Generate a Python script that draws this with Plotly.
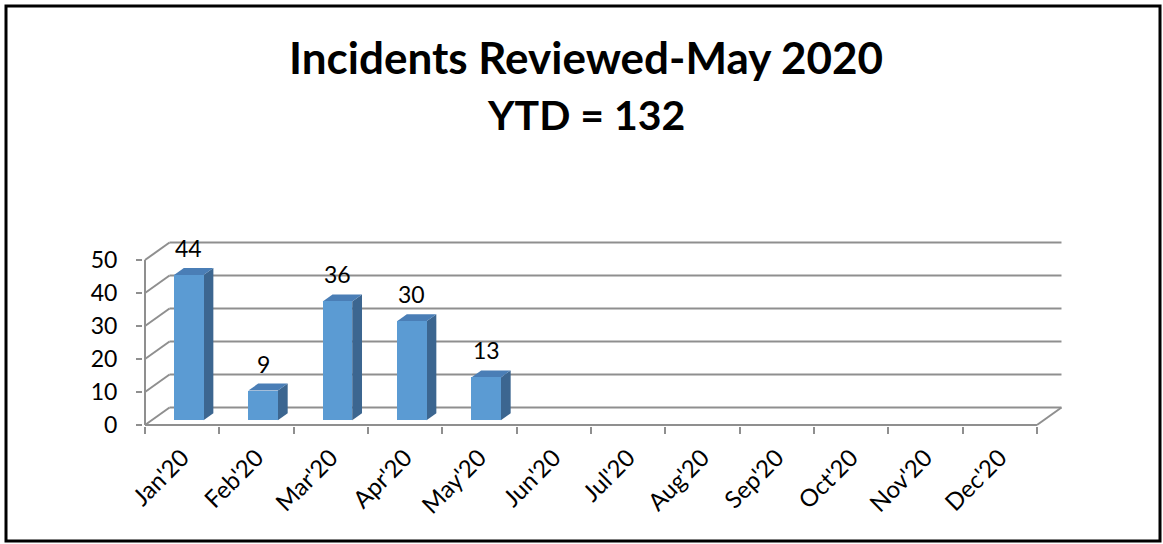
import plotly.graph_objects as go

# ---------------- data ----------------
months = ["Jan'20", "Feb'20", "Mar'20", "Apr'20", "May'20", "Jun'20",
          "Jul'20", "Aug'20", "Sep'20", "Oct'20", "Nov'20", "Dec'20"]
incidents = [44, 9, 36, 30, 13]
y_ticks = [0, 10, 20, 30, 40, 50]
title_line1 = "Incidents Reviewed-May 2020"
title_line2 = "YTD = 132"

# ---------------- style / geometry ----------------
W, H = 1163, 544
FONT = "Lato"
GRID = "#8f8f8f"
FRONT = "#5b9bd3"
SIDE = "#3c6690"
TOP = "#4a7eb6"

PX_CAT = 74.33      # pixels per category
PX_UNIT = 3.3       # pixels per value unit
DX = 0.33           # depth shift (category units)
DY = 5.3            # depth shift (value units)
BAR_FRONT = 0.27    # depth position of bar front face (0..1)
BAR_DEPTH = 0.40    # bar depth (0..1)
BAR_W = 0.397       # bar width (category units)

PLOT_L, PLOT_R, PLOT_T, PLOT_B = 143, 1072, 200, 426
AXIS_X0_PX, AXIS_Y0_PX = 145, 425

x_lo = -(AXIS_X0_PX - PLOT_L) / PX_CAT
x_hi = x_lo + (PLOT_R - PLOT_L) / PX_CAT
y_lo = -(PLOT_B - AXIS_Y0_PX) / PX_UNIT
y_hi = y_lo + (PLOT_B - PLOT_T) / PX_UNIT

n_cat = len(months)
y_max = max(y_ticks)


def px_x(px):
    return (px - PLOT_L) / (PLOT_R - PLOT_L)


def px_y(py):
    return (PLOT_B - py) / (PLOT_B - PLOT_T)


fig = go.Figure()

# bar geometry derived from data
bx = [i + 0.5 + BAR_FRONT * DX for i in range(len(incidents))]
bbase = BAR_FRONT * DY
ddx, ddy = BAR_DEPTH * DX, BAR_DEPTH * DY

fig.add_trace(go.Bar(
    x=bx, y=incidents, base=[bbase] * len(incidents), width=BAR_W,
    marker=dict(color=FRONT, line=dict(width=0)),
    xaxis="x2", yaxis="y", showlegend=False, hoverinfo="skip",
))

for xc, v in zip(bx, incidents):
    xl, xr = xc - BAR_W / 2, xc + BAR_W / 2
    top = bbase + v
    # side face
    fig.add_trace(go.Scatter(
        x=[xr, xr + ddx, xr + ddx, xr, xr],
        y=[bbase, bbase + ddy, top + ddy, top, bbase],
        fill="toself", fillcolor=SIDE, mode="lines", line=dict(width=0, color=SIDE),
        showlegend=False, hoverinfo="skip",
    ))
    # top face
    fig.add_trace(go.Scatter(
        x=[xl, xr, xr + ddx, xl + ddx, xl],
        y=[top, top, top + ddy, top + ddy, top],
        fill="toself", fillcolor=TOP, mode="lines", line=dict(width=0, color=TOP),
        showlegend=False, hoverinfo="skip",
    ))

# ---------------- walls / gridlines as shapes ----------------
shapes = []
line = dict(color=GRID, width=2)
for v in y_ticks:
    shapes.append(dict(type="line", xref="x", yref="y", layer="below",
                       x0=DX, y0=v + DY, x1=n_cat + DX, y1=v + DY, line=line))
    shapes.append(dict(type="line", xref="x", yref="y", layer="below",
                       x0=0, y0=v, x1=DX, y1=v + DY, line=line))
# front baseline, right floor edge, vertical axis
shapes.append(dict(type="line", xref="x", yref="y", layer="below",
                   x0=0, y0=0, x1=n_cat, y1=0, line=line))
shapes.append(dict(type="line", xref="x", yref="y", layer="below",
                   x0=n_cat, y0=0, x1=n_cat + DX, y1=DY, line=line))
shapes.append(dict(type="line", xref="x", yref="y", layer="below",
                   x0=0, y0=0, x1=0, y1=y_max, line=line))
# outer frame
shapes.append(dict(type="rect", xref="paper", yref="paper",
                   x0=px_x(6), x1=px_x(1160), y0=px_y(6), y1=px_y(541),
                   line=dict(color="black", width=3)))

# ---------------- annotations ----------------
annotations = []
for xc, v in zip(bx, incidents):
    annotations.append(dict(x=xc, y=bbase + v, xref="x", yref="y", text=str(v),
                            showarrow=False, yshift=27, yanchor="middle",
                            font=dict(family=FONT, size=23, color="black")))
annotations.append(dict(x=px_x(586), y=px_y(57), xref="paper", yref="paper",
                        text="<b>" + title_line1 + "</b>", showarrow=False,
                        xanchor="center", yanchor="middle",
                        font=dict(family=FONT, size=44, color="black")))
annotations.append(dict(x=px_x(586), y=px_y(114), xref="paper", yref="paper",
                        text="<b>" + title_line2 + "</b>", showarrow=False,
                        xanchor="center", yanchor="middle",
                        font=dict(family=FONT, size=41, color="black")))

fig.update_layout(
    width=W, height=H,
    margin=dict(l=PLOT_L, r=W - PLOT_R, t=PLOT_T, b=H - PLOT_B, pad=0),
    paper_bgcolor="white", plot_bgcolor="white",
    showlegend=False, bargap=0,
    shapes=shapes, annotations=annotations,
    xaxis=dict(range=[x_lo, x_hi], tickmode="array",
               tickvals=list(range(n_cat + 1)), showticklabels=False,
               ticks="outside", ticklen=7, tickwidth=2, tickcolor=GRID,
               showgrid=False, zeroline=False, showline=False, fixedrange=True),
    xaxis2=dict(range=[x_lo, x_hi], overlaying="x", anchor="y", side="bottom",
                tickmode="array", tickvals=[i + 0.5 for i in range(n_cat)],
                ticktext=months, tickangle=-45, ticks="",
                ticklabelstandoff=12,
                tickfont=dict(family=FONT, size=24, color="black"),
                showgrid=False, zeroline=False, showline=False, fixedrange=True),
    yaxis=dict(range=[y_lo, y_hi], tickmode="array", tickvals=y_ticks,
               ticktext=[str(t) for t in y_ticks],
               ticks="outside", ticklen=6, tickwidth=2, tickcolor=GRID,
               ticklabelstandoff=14,
               tickfont=dict(family=FONT, size=23, color="black"),
               showgrid=False, zeroline=False, showline=False, fixedrange=True),
)

fig.write_html("out.html", config={"displayModeBar": False},
               post_script="document.body.style.margin='0';")
